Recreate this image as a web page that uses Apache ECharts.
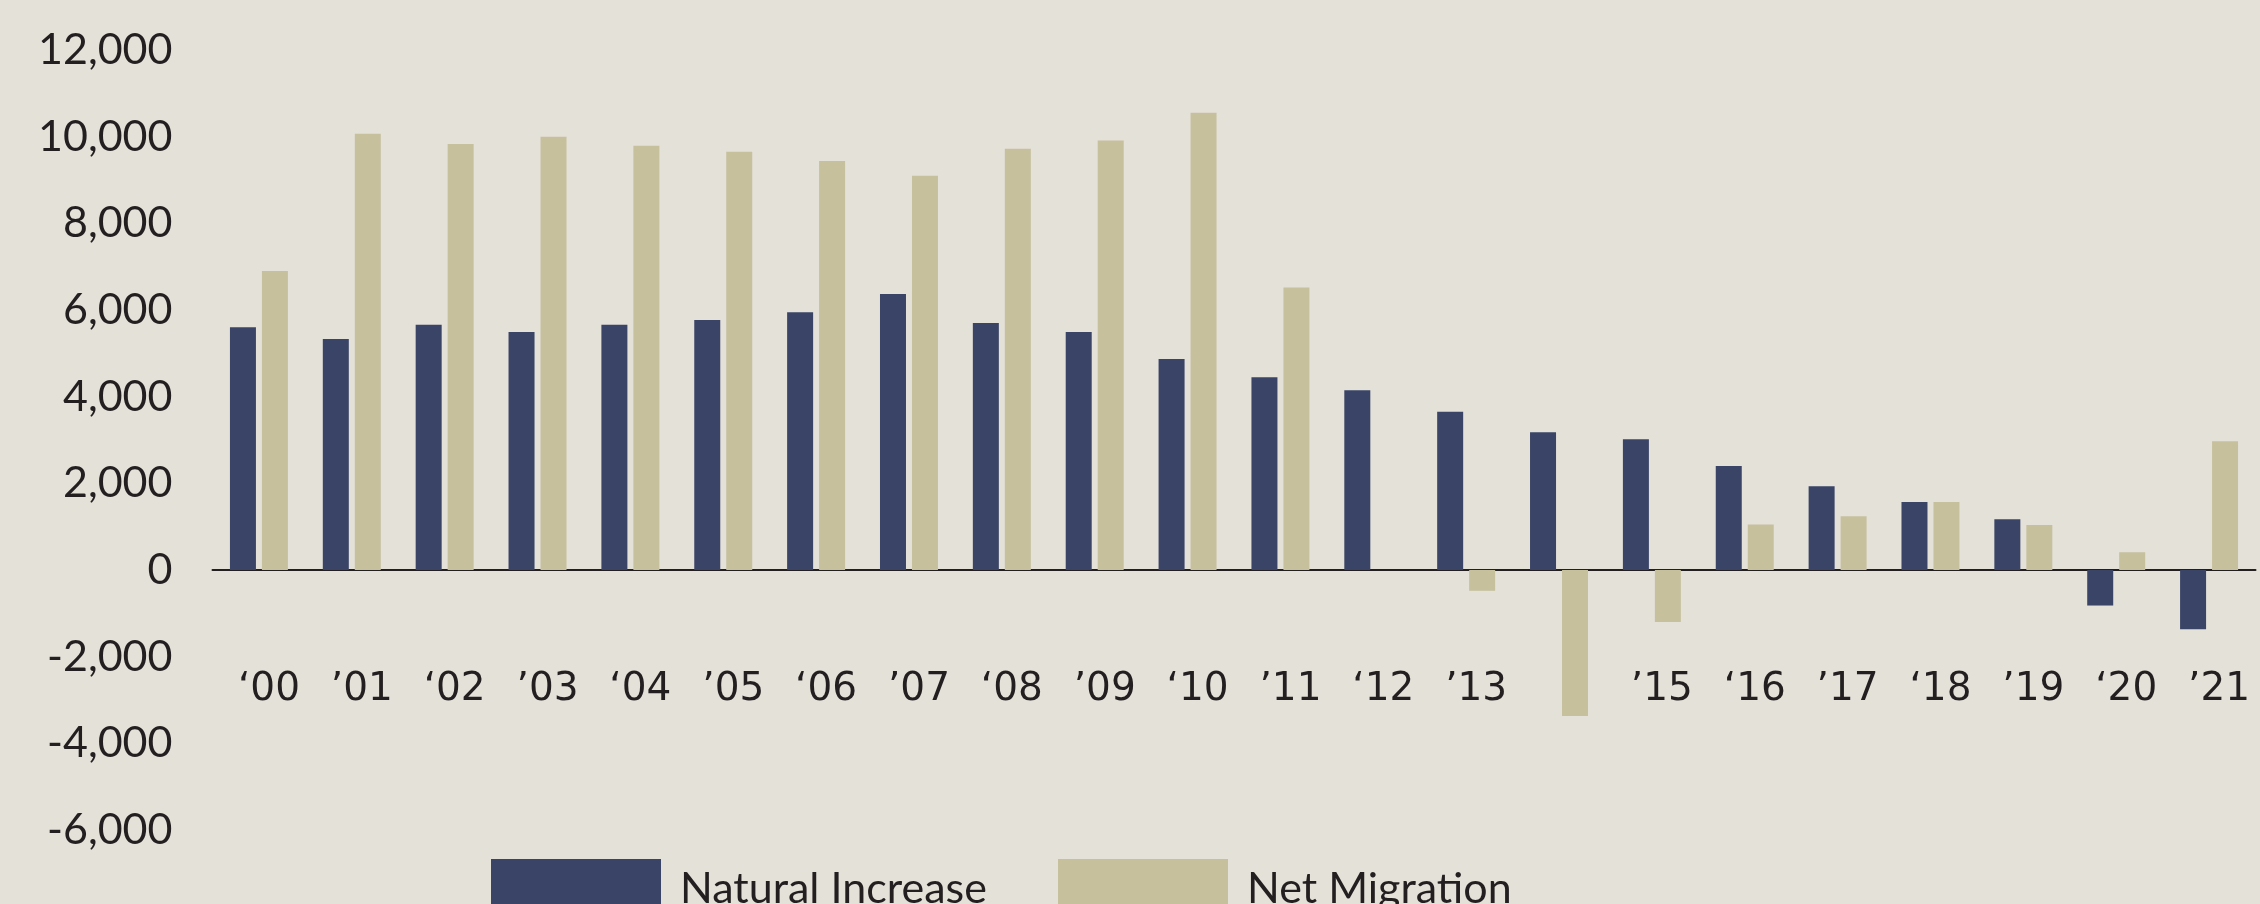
<!DOCTYPE html>
<html>
<head>
<meta charset="utf-8">
<script src="https://cdn.jsdelivr.net/npm/echarts@6/dist/echarts.min.js"></script>
<style>
  html, body { margin: 0; padding: 0; background: #E4E1D9; }
  #chart { width: 2260px; height: 904px; }
</style>
</head>
<body>
<div id="chart"></div>
<script>
const years = ['2000','2001','2002','2003','2004','2005','2006','2007','2008','2009','2010',
               '2011','2012','2013','2014','2015','2016','2017','2018','2019','2020','2021'];
const tickLabels = ['\u201800','\u201901','\u201802','\u201903','\u201804','\u201905','\u201806','\u201907',
                    '\u201808','\u201909','\u201810','\u201911','\u201812','\u201913','',
                    '\u201915','\u201816','\u201917','\u201818','\u201919','\u201820','\u201921'];
const naturalIncrease = [5600, 5330, 5660, 5490, 5660, 5770, 5950, 6370, 5700, 5490, 4870,
                         4450, 4150, 3650, 3180, 3020, 2400, 1930, 1570, 1170, -820, -1370];
const netMigration = [6900, 10070, 9830, 10000, 9790, 9650, 9440, 9100, 9720, 9910, 10550,
                      6520, 0, -480, -3370, -1200, 1050, 1240, 1570, 1040, 410, 2970];
const yTicks = { min: -6000, max: 12000, step: 2000 };
const seriesNames = ['Natural Increase', 'Net Migration'];

const TEXT = '#231F20';
const FONT = 'Lato';

const chart = echarts.init(document.getElementById('chart'));
chart.setOption({
  backgroundColor: '#E4E1D9',
  animation: false,
  grid: { left: 212.5, right: 4.5, top: 50, bottom: 74, containLabel: false, outerBoundsMode: 'none' },
  legend: [
    {
      data: [seriesNames[0]], left: 486, top: 854,
      itemWidth: 170, itemHeight: 60, icon: 'rect',
      textStyle: { color: TEXT, fontFamily: FONT, fontSize: 43, padding: [0, 0, 0, 14] }
    },
    {
      data: [seriesNames[1]], left: 1053, top: 854,
      itemWidth: 170, itemHeight: 60, icon: 'rect',
      textStyle: { color: TEXT, fontFamily: FONT, fontSize: 43, padding: [0, 0, 0, 14] }
    }
  ],
  xAxis: {
    type: 'category',
    data: years,
    axisLine: { onZero: true, lineStyle: { color: TEXT, width: 2 } },
    axisTick: { show: false },
    axisLabel: {
      interval: 0,
      margin: -160,
      padding: [0, 0, 0, 20],
      color: TEXT, fontFamily: 'DejaVu Sans', fontSize: 39,
      formatter: (v, i) => tickLabels[i]
    },
    splitLine: { show: false }
  },
  yAxis: {
    type: 'value',
    min: yTicks.min, max: yTicks.max, interval: yTicks.step,
    axisLine: { show: false },
    axisTick: { show: false },
    splitLine: { show: false },
    axisLabel: {
      margin: 40,
      color: TEXT, fontFamily: FONT, fontSize: 43,
      formatter: v => v.toLocaleString('en-US')
    }
  },
  series: [
    {
      name: seriesNames[0], type: 'bar', data: naturalIncrease,
      barWidth: 26, barGap: '23%',
      itemStyle: { color: '#3A4466' }
    },
    {
      name: seriesNames[1], type: 'bar', data: netMigration,
      barWidth: 26, barGap: '23%',
      itemStyle: { color: '#C6C09D' }
    }
  ]
});
</script>
</body>
</html>
